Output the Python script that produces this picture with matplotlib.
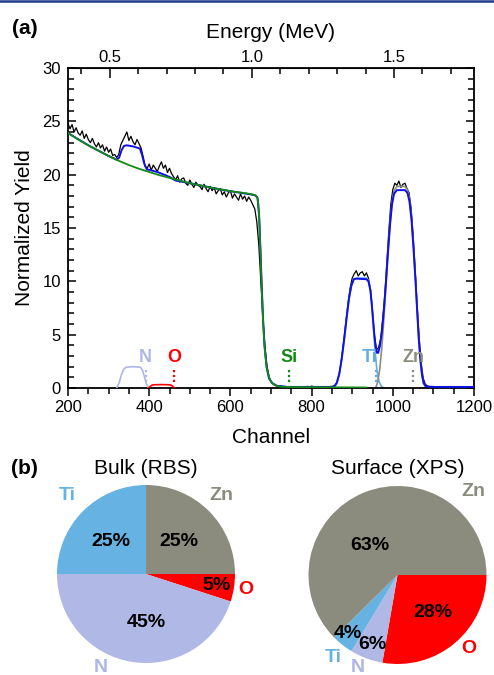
import numpy as np
import matplotlib
matplotlib.use("Agg")
import matplotlib.pyplot as plt
from matplotlib.ticker import MultipleLocator, FixedLocator, FormatStrFormatter
from matplotlib.lines import Line2D

plt.rcParams['font.family'] = ['Liberation Sans', 'DejaVu Sans']

# ---------------- data ----------------
BLACK_CH = np.arange(200, 1201, 5)
BLACK_Y = [
    24.8, 24.3, 24.7, 24.0, 24.4, 23.9, 23.7, 24.1, 23.4, 23.8, 23.3, 23.0, 23.4,
    22.9, 22.6, 23.0, 22.5, 22.8, 22.2, 22.6, 22.1, 22.4, 21.8, 21.9, 21.6,
    21.9, 22.8, 23.2, 23.6, 24.0, 23.2, 23.6, 23.1, 22.8, 23.3, 22.9, 22.5, 21.7,
    20.8, 20.6, 21.0, 20.4, 20.9, 20.6, 20.3, 20.8, 21.2, 20.6, 20.9, 20.2, 20.6, 20.1,
    19.8, 19.5, 19.9, 19.3, 19.6, 19.7, 19.2, 19.0, 19.5, 19.1, 18.8, 19.3, 19.0,
    18.9, 18.6, 19.1, 18.7, 18.4, 18.9, 18.5, 18.8, 18.2, 18.5, 18.7, 18.1, 18.4,
    17.9, 18.3, 18.5, 17.8, 18.2, 17.9, 17.6, 18.2, 17.7, 18.0, 17.5, 17.9, 17.6, 17.2,
    16.8, 15.6, 13.4, 10.0, 6.6, 3.9, 2.1, 1.1, 0.6, 0.4, 0.25, 0.2, 0.15, 0.18,
    0.12, 0.15, 0.1, 0.14, 0.1, 0.12, 0.09, 0.13, 0.1, 0.12, 0.08, 0.12, 0.15, 0.1,
    0.18, 0.12, 0.1, 0.14, 0.09, 0.12, 0.1, 0.13, 0.1, 0.14, 0.15, 0.2,
    0.3, 0.8, 1.7, 3.1, 4.7, 6.4, 8.0, 9.4, 10.3, 10.7, 11.0, 10.5, 10.8, 10.9,
    10.5, 10.8, 10.3, 9.3, 7.2, 4.9, 3.6, 3.8, 4.6, 6.4, 8.6, 11.6, 14.6, 17.2,
    18.6, 19.2, 19.0, 19.4, 18.8, 19.1, 19.2, 18.7, 18.3, 16.9, 14.4, 11.2, 7.8,
    4.7, 2.3, 0.9, 0.35, 0.2,
    0.12, 0.1, 0.14, 0.08, 0.12, 0.1, 0.13, 0.09, 0.12, 0.1, 0.14, 0.1, 0.12,
    0.08, 0.11, 0.13, 0.09, 0.12, 0.1, 0.13, 0.1, 0.12, 0.1,
]

BLUE_CH = [200, 250, 300, 320, 326, 332, 338, 345, 360, 377, 382, 388, 394, 400,
           420, 440, 452, 458, 465, 500, 550, 600, 650, 662, 667, 671, 674, 677,
           680, 684, 689, 695, 703, 715, 740, 855, 862, 868, 874, 880, 886, 892,
           898, 904, 910, 935, 940, 945, 949, 953, 957, 961, 964, 968, 973, 978,
           983, 988, 993, 998, 1003, 1010, 1030, 1036, 1041, 1046, 1051, 1056,
           1060, 1064, 1068, 1072, 1076, 1082, 1100, 1200]
BLUE_Y = [23.9, 22.75, 21.75, 21.4, 21.6, 22.3, 22.7, 22.75, 22.65, 22.45, 21.9,
          21.0, 20.5, 20.45, 20.25, 19.95, 19.75, 19.6, 19.45, 19.2, 18.8, 18.45,
          18.15, 18.05, 17.8, 16.0, 13.0, 9.8, 6.8, 4.0, 2.0, 0.9, 0.45, 0.2, 0.1,
          0.1, 0.5, 1.3, 2.7, 4.5, 6.5, 8.4, 9.6, 10.2, 10.25, 10.2, 10.0, 9.1,
          7.5, 5.6, 4.0, 3.3, 3.3, 3.9, 5.2, 7.3, 9.8, 12.6, 15.2, 17.2, 18.2,
          18.55, 18.55, 18.3, 17.5, 15.8, 13.1, 10.0, 7.2, 4.6, 2.6, 1.2, 0.45,
          0.15, 0.1, 0.1]

GREEN_CH = [200, 225, 250, 275, 300, 325, 350, 375, 400, 425, 450, 475, 500, 550,
            600, 640, 660, 666, 669, 672, 675, 678, 681, 685, 690, 696, 703, 712,
            725, 760, 935]
GREEN_Y = [23.9, 23.3, 22.75, 22.25, 21.75, 21.3, 20.9, 20.55, 20.25, 19.95, 19.7,
           19.45, 19.2, 18.8, 18.45, 18.25, 18.1, 17.9, 17.2, 15.0, 11.5, 8.5, 5.8,
           3.4, 1.8, 0.9, 0.45, 0.22, 0.12, 0.08, 0.05]

N_CH = [320, 326, 332, 338, 344, 360, 378, 383, 388, 393, 398]
N_Y = [0.0, 0.5, 1.3, 1.8, 1.95, 2.0, 1.95, 1.7, 1.1, 0.4, 0.0]
O_CH = [398, 402, 406, 410, 430, 450, 455, 459, 463]
O_Y = [0.0, 0.12, 0.25, 0.3, 0.32, 0.3, 0.25, 0.12, 0.0]
TI_CH = [855, 862, 868, 874, 880, 886, 892, 898, 904, 910, 935, 940, 945, 949,
         953, 957, 961, 966, 972, 978]
TI_Y = [0.0, 0.4, 1.2, 2.6, 4.4, 6.4, 8.3, 9.6, 10.2, 10.3, 10.3, 10.1, 9.2, 7.5,
        5.3, 3.2, 1.6, 0.6, 0.15, 0.0]
ZN_CH = [958, 963, 968, 973, 978, 983, 988, 993, 998, 1003, 1010, 1030, 1036,
         1041, 1046, 1051, 1056, 1060, 1064, 1068, 1072, 1076, 1082]
ZN_Y = [0.0, 0.6, 1.8, 3.8, 6.5, 9.5, 12.6, 15.4, 17.4, 18.5, 18.9, 18.9, 18.6,
        17.8, 16.0, 13.2, 10.0, 7.2, 4.6, 2.6, 1.2, 0.4, 0.0]

ELEMENTS = ["N", "O", "Si", "Ti", "Zn"]
ELEMENT_CH = [391, 461, 744, 958, 1049]
ELEMENT_TEXT_CH = [391, 461, 744, 944, 1050]

ENERGY_TICKS = [0.5, 1.0, 1.5]

BULK_LABELS = ["Zn", "O", "N", "Ti"]
BULK_VALUES = [25, 5, 45, 25]
SURF_LABELS = ["O", "N", "Ti", "Zn"]
SURF_VALUES = [28, 6, 4, 63]

# ---------------- styles ----------------
C_N = "#aeb6e6"
C_O = "#ff0000"
C_SI = "#138a13"
C_TI = "#62ade0"
C_ZN = "#8c8c7e"
C_BLUE = "#1010e8"
ELEMENT_COLORS = [C_N, C_O, C_SI, C_TI, C_ZN]
PIE_COLORS = {"Zn": C_ZN, "O": C_O, "N": "#b0b8e6", "Ti": "#66b2e2"}

W, H = 494, 675
fig = plt.figure(figsize=(W / 100, H / 100), dpi=100)


def fx(x):
    return x / W


def fy(y):
    return 1 - y / H


# top border line
fig.add_artist(Line2D([0, 1], [fy(1), fy(1)], color="#1f3b8c", lw=1.8,
                      transform=fig.transFigure))

ax = fig.add_axes([fx(68), fy(388), (474 - 68) / W, (388 - 68) / H])
ax.plot(BLACK_CH, BLACK_Y, color="black", lw=0.9, zorder=2)
ax.plot(BLUE_CH, BLUE_Y, color=C_BLUE, lw=1.4, zorder=3)
ax.plot(GREEN_CH, GREEN_Y, color=C_SI, lw=1.3, zorder=4)
ax.plot(N_CH, N_Y, color=C_N, lw=1.2, zorder=4)
ax.plot(O_CH, O_Y, color=C_O, lw=1.2, zorder=4)
ax.plot(TI_CH, TI_Y, color=C_TI, lw=1.2, zorder=2.5)
ax.plot(ZN_CH, ZN_Y, color=C_ZN, lw=1.2, zorder=2.5)

for el, ch, tch, col in zip(ELEMENTS, ELEMENT_CH, ELEMENT_TEXT_CH, ELEMENT_COLORS):
    ax.plot([ch, ch], [0.6, 1.7], color=col, lw=1.6, ls=(0, (1, 1.2)), zorder=5)
    ax.text(tch, 2.9, el, color=col, fontsize=13, fontweight="bold",
            ha="center", va="center", zorder=6)

ax.set_xlim(200, 1200)
ax.set_ylim(0, 30)
ax.xaxis.set_major_locator(MultipleLocator(200))
ax.xaxis.set_minor_locator(MultipleLocator(50))
ax.yaxis.set_major_locator(MultipleLocator(5))
ax.yaxis.set_minor_locator(MultipleLocator(1))
ax.tick_params(axis="x", which="both", direction="out", top=False, labelsize=12,
               width=1.1, pad=3)
ax.tick_params(axis="x", which="major", length=6)
ax.tick_params(axis="x", which="minor", length=4)
ax.tick_params(axis="y", which="both", direction="in", right=True, labelsize=12,
               width=1.1, pad=5)
ax.tick_params(axis="y", which="major", length=6)
ax.tick_params(axis="y", which="minor", length=4)
for s in ax.spines.values():
    s.set_linewidth(1.3)
ax.set_xlabel("Channel", fontsize=15, labelpad=9)
ax.set_ylabel("Normalized Yield", fontsize=15, labelpad=6)

sec = ax.secondary_xaxis("top", functions=(lambda c: 0.5 + (np.asarray(c) - 303) / 700.0,
                                           lambda e: 303 + 700.0 * (np.asarray(e) - 0.5)))
sec.xaxis.set_major_locator(FixedLocator(ENERGY_TICKS))
sec.xaxis.set_minor_locator(MultipleLocator(0.1))
sec.xaxis.set_major_formatter(FormatStrFormatter("%.1f"))
sec.tick_params(which="both", direction="in", labelsize=12, width=1.1, pad=2)
sec.tick_params(which="major", length=7)
sec.tick_params(which="minor", length=4)
sec.set_xlabel("Energy (MeV)", fontsize=15, labelpad=9)

fig.text(fx(12), fy(28), "(a)", fontsize=15, fontweight="bold", ha="left", va="center")
fig.text(fx(11), fy(469), "(b)", fontsize=15, fontweight="bold", ha="left", va="center")

# ---------------- pies ----------------
R = 89
BULK_PCT_POS = [(44, 0.52), (-9, 0.80), (-90, 0.55), (137, 0.535)]
BULK_LBL_POS = [(46, 1.22), (-9, 1.13), (-116, 1.17), (135, 1.25)]
SURF_PCT_POS = [(-46, 0.58), (-110, 0.83), (-130, 0.86), (133, 0.46)]
SURF_LBL_POS = [(-46, 1.15), (-113, 1.13), (-128, 1.18), (48, 1.27)]


def draw_pie(cx, cy, labels, values, start, pct_pos, lbl_pos, title):
    pa = fig.add_axes([fx(cx - R), fy(cy + R), 2 * R / W, 2 * R / H])
    pa.pie(values, colors=[PIE_COLORS[l] for l in labels], startangle=start,
           counterclock=False, radius=1.0, wedgeprops=dict(linewidth=0))
    pa.set_xlim(-1, 1)
    pa.set_ylim(-1, 1)
    pa.set_aspect("equal")
    pa.axis("off")
    for v, (ang, d) in zip(values, pct_pos):
        a = np.deg2rad(ang)
        pa.text(d * np.cos(a), d * np.sin(a), f"{v}%", fontsize=14,
                fontweight="bold", ha="center", va="center")
    for l, (ang, d) in zip(labels, lbl_pos):
        a = np.deg2rad(ang)
        pa.text(d * np.cos(a), d * np.sin(a), l, fontsize=14, fontweight="bold",
                color=PIE_COLORS[l] if l != "N" else "#aeb6e6",
                ha="center", va="center")
    fig.text(fx(cx), fy(469), title, fontsize=15, ha="center", va="center")


draw_pie(146, 574, BULK_LABELS, BULK_VALUES, 90, BULK_PCT_POS, BULK_LBL_POS,
         "Bulk (RBS)")
draw_pie(397.5, 575, SURF_LABELS, SURF_VALUES, 0, SURF_PCT_POS, SURF_LBL_POS,
         "Surface (XPS)")

fig.savefig("out.png", dpi=100)
